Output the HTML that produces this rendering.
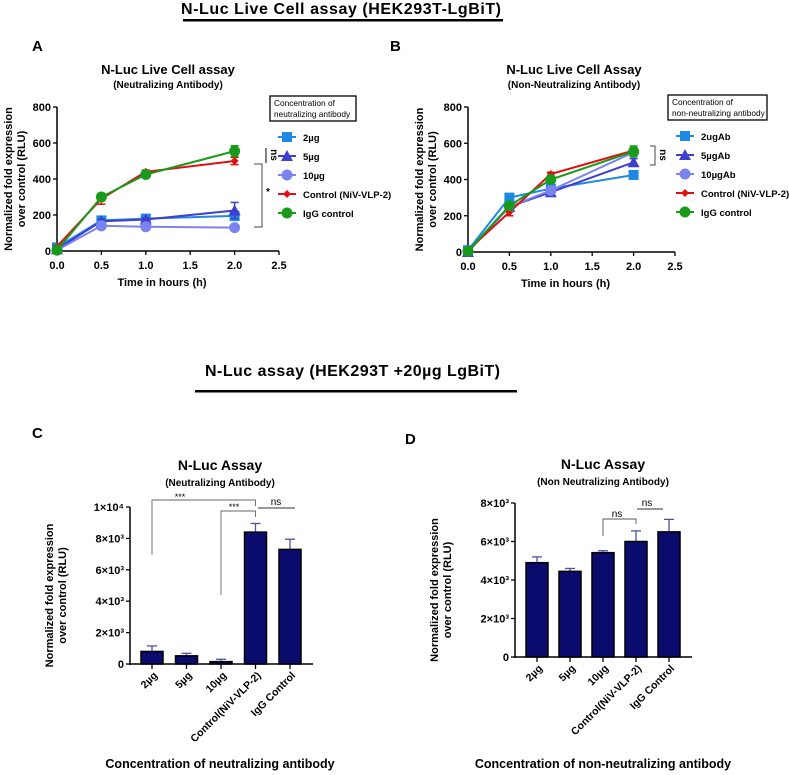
<!DOCTYPE html>
<html><head><meta charset="utf-8"><style>
html,body{margin:0;padding:0;background:#fff}
svg{display:block;font-family:"Liberation Sans",Arial,sans-serif}
</style></head><body>
<svg id="fig" width="789" height="775" viewBox="0 0 789 775">
<g>
<text x="181" y="14" font-size="16" font-weight="bold" textLength="320">N-Luc  Live Cell assay (HEK293T-LgBiT)</text>
<rect x="183" y="19" width="320" height="2.5" fill="#000"/></g>
<g>
<text x="205" y="376" font-size="16" font-weight="bold" textLength="295">N-Luc assay (HEK293T +20µg LgBiT)</text>
<rect x="195" y="390" width="322" height="2.5" fill="#000"/></g>
<text x="32" y="51" font-size="15" font-weight="bold">A</text>
<text x="390" y="51" font-size="15" font-weight="bold">B</text>
<text x="32" y="438" font-size="15" font-weight="bold">C</text>
<text x="405" y="444" font-size="15" font-weight="bold">D</text>
</svg>
<script>
// ---- Panel A data ----
const timesA=[0,0.5,1,2];
const a2ug=[20,170,180,195];
const a5ug=[10,165,175,225];
const a10ug=[5,140,135,130];
const aCtrl=[25,290,440,500];
const aIgG=[5,300,425,555];
const aErr5=[0,10,10,45];
const aErrCtrl=[5,30,10,20];
const aErrIgG=[5,20,10,30];
// ---- Panel B data ----
const b2ug=[10,300,350,425];
const b5ug=[0,250,330,495];
const b10ug=[5,250,340,550];
const bCtrl=[10,220,430,560];
const bIgG=[5,255,400,555];
const bErrCtrl=[5,20,10,15];
const bErrIgG=[5,15,10,30];
const xTicks=[0,0.5,1,1.5,2,2.5];
const yTicksAB=[0,200,400,600,800];
// ---- Panel C data ----
const catsC=["2µg","5µg","10µg","Control(NiV-VLP-2)","IgG Control"];
const valsC=[800,520,150,8400,7300];
const errC=[350,160,150,550,650];
const yTicksC=[0,2000,4000,6000,8000,10000];
const yLabC=["0","2×10³","4×10³","6×10³","8×10³","1×10⁴"];
// ---- Panel D data ----
const catsD=["2µg","5µg","10µg","Control(NiV-VLP-2)","IgG Control"];
const valsD=[4900,4450,5420,6000,6500];
const errD=[300,150,100,550,650];
const yTicksD=[0,2000,4000,6000,8000];
const yLabD=["0","2×10³","4×10³","6×10³","8×10³"];

const NS="http://www.w3.org/2000/svg";
const svg=document.getElementById('fig');
function mk(tag,at,parent,txt){const e=document.createElementNS(NS,tag);for(const k in at)e.setAttribute(k,at[k]);if(txt!=null)e.textContent=txt;(parent||svg).appendChild(e);return e;}
function grp(name){const g=mk('g',{});return g;}

const COL={c2:"#1e88e5",c5:"#3f3fcf",c10:"#7b83ee",ctrl:"#e01010",igg:"#1a9a1a"};
function marker(g,shape,x,y,c,s){
  if(shape==='sq') return mk('rect',{x:x-5,y:y-5,width:10,height:10,fill:c},g);
  if(shape==='tri') return mk('polygon',{points:`${x},${y-6} ${x-6},${y+5} ${x+6},${y+5}`,fill:c},g);
  if(shape==='circ') return mk('circle',{cx:x,cy:y,r:s||5.5,fill:c},g);
  if(shape==='dia') return mk('polygon',{points:`${x},${y-4} ${x+4},${y} ${x},${y+4} ${x-4},${y}`,fill:c},g);
}

function linePanel(o){
  const X=v=>o.x0+(v/2.5)*(o.x1-o.x0), Y=v=>o.y0-(v/800)*(o.y0-o.y1);
  const ax=grp(o.id+'-axes');
  mk('line',{x1:o.x0,y1:o.y1,x2:o.x0,y2:o.y0+1,stroke:'#000','stroke-width':1.5},ax);
  mk('line',{x1:o.x0,y1:o.y0,x2:o.x1,y2:o.y0,stroke:'#000','stroke-width':1.5},ax);
  xTicks.forEach(t=>{mk('line',{x1:X(t),y1:o.y0,x2:X(t),y2:o.y0+4,stroke:'#000','stroke-width':1.3},ax);
    mk('text',{x:X(t),y:o.y0+18,'font-size':11,'font-weight':'bold','text-anchor':'middle'},ax,t.toFixed(1));});
  yTicksAB.forEach(t=>{mk('line',{x1:o.x0-4,y1:Y(t),x2:o.x0,y2:Y(t),stroke:'#000','stroke-width':1.3},ax);
    mk('text',{x:o.x0-6,y:Y(t)+4,'font-size':11,'font-weight':'bold','text-anchor':'end'},ax,String(t));});
  mk('text',{x:(o.x0+o.x1)/2-6,y:o.y0+35,'font-size':11,'font-weight':'bold','text-anchor':'middle'},ax,'Time in hours (h)');
  const yt=mk('text',{transform:`translate(${o.x0-38},${(o.y0+o.y1)/2}) rotate(-90)`,'font-size':11,'font-weight':'bold','text-anchor':'middle'},ax);
  mk('tspan',{x:0,dy:-7},yt,'Normalized fold expression');mk('tspan',{x:0,dy:13},yt,'over control (RLU)');
  const tg=grp(o.id+'-title');
  mk('text',{x:o.tx,y:o.y1-33,'font-size':13,'font-weight':'bold','text-anchor':'middle'},tg,o.title);
  mk('text',{x:o.tx,y:o.y1-19,'font-size':10,'font-weight':'bold','text-anchor':'middle'},tg,o.sub);
  o.series.forEach(s=>{
    const g=grp(o.id+'-series-'+s.key);
    const pts=timesA.map((t,i)=>X(t)+','+Y(s.v[i])).join(' ');
    mk('polyline',{points:pts,fill:'none',stroke:s.c,'stroke-width':2},g);
    timesA.forEach((t,i)=>{const e=s.e?s.e[i]:0;
      if(e>0){mk('line',{x1:X(t),y1:Y(s.v[i]+e),x2:X(t),y2:Y(s.v[i]-e),stroke:s.c,'stroke-width':1.5},g);
        mk('line',{x1:X(t)-4,y1:Y(s.v[i]+e),x2:X(t)+4,y2:Y(s.v[i]+e),stroke:s.c,'stroke-width':1.5},g);
        mk('line',{x1:X(t)-4,y1:Y(s.v[i]-e),x2:X(t)+4,y2:Y(s.v[i]-e),stroke:s.c,'stroke-width':1.5},g);}
      const m=marker(g,s.m,X(t),Y(s.v[i]),s.c);
      
      });
  });
  const lg=grp(o.id+'-legend');
  mk('rect',{x:o.lx,y:o.ly,width:o.lw,height:25,fill:'#fff',stroke:'#000','stroke-width':1.3},lg);
  mk('text',{x:o.lx+4,y:o.ly+10,'font-size':8.3},lg,o.lt1);
  mk('text',{x:o.lx+4,y:o.ly+21,'font-size':8.3},lg,o.lt2);
  o.series.forEach((s,i)=>{const y=o.ly+41+i*19;const eg=grp(o.id+'-legend-entry-'+s.key);lg.appendChild(eg);
    mk('line',{x1:o.lx+8,y1:y,x2:o.lx+26,y2:y,stroke:s.c,'stroke-width':2},eg);
    marker(eg,s.m,o.lx+17,y,s.c);
    mk('text',{x:o.lx+33,y:y+4,'font-size':9.5,'font-weight':'bold'},eg,s.lab);});
  return {X,Y};
}

const A=linePanel({id:'panel-a',x0:57,x1:279,y0:251,y1:107,tx:168,title:'N-Luc Live Cell assay',sub:'(Neutralizing Antibody)',
 lx:270,ly:96,lw:86,lt1:'Concentration of',lt2:'neutralizing antibody',
 series:[{key:'2ug',v:a2ug,c:COL.c2,m:'sq',lab:'2µg',e:[0,10,12,25]},
 {key:'5ug',v:a5ug,c:COL.c5,m:'tri',lab:'5µg',e:aErr5},
 {key:'10ug',v:a10ug,c:COL.c10,m:'circ',lab:'10µg'},
 {key:'control',v:aCtrl,c:COL.ctrl,m:'dia',lab:'Control (NiV-VLP-2)',e:aErrCtrl},
 {key:'igg',v:aIgG,c:COL.igg,m:'circ',lab:'IgG control',e:aErrIgG}]});
(function(){const g=grp('panel-a-significance');
 mk('line',{x1:266,y1:148,x2:266,y2:163,stroke:'#000','stroke-width':1},g);
 mk('text',{transform:'translate(271,155) rotate(90)','font-size':10,'font-weight':'bold','text-anchor':'middle'},g,'ns');
 mk('polyline',{points:'254,164 262,164 262,227 254,227',fill:'none',stroke:'#444','stroke-width':1},g);
 mk('text',{x:266,y:195,'font-size':10,'font-weight':'bold'},g,'*');})();

const B=linePanel({id:'panel-b',x0:468,x1:675,y0:252,y1:107,tx:574,title:'N-Luc Live Cell Assay',sub:'(Non-Neutralizing Antibody)',
 lx:668,ly:95,lw:99,lt1:'Concentration of',lt2:'non-neutralizing antibody',
 series:[{key:'2ugab',v:b2ug,c:COL.c2,m:'sq',lab:'2ugAb',e:[0,10,10,15]},
 {key:'5ugab',v:b5ug,c:COL.c5,m:'tri',lab:'5µgAb',e:[0,10,10,20]},
 {key:'10ugab',v:b10ug,c:COL.c10,m:'circ',lab:'10µgAb'},
 {key:'control',v:bCtrl,c:COL.ctrl,m:'dia',lab:'Control (NiV-VLP-2)',e:bErrCtrl},
 {key:'igg',v:bIgG,c:COL.igg,m:'circ',lab:'IgG control',e:bErrIgG}]});
(function(){const g=grp('panel-b-significance');
 mk('polyline',{points:'650,146 655,146 655,165 650,165',fill:'none',stroke:'#444','stroke-width':1},g);
 mk('text',{transform:'translate(660,155) rotate(90)','font-size':10,'font-weight':'bold','text-anchor':'middle'},g,'ns');})();

function barPanel(o){
  const X=i=>o.x0+o.off+i*o.step, Y=v=>o.y0-(v/o.max)*(o.y0-o.y1);
  const ax=grp(o.id+'-axes');
  mk('line',{x1:o.x0,y1:o.y1,x2:o.x0,y2:o.y0+1,stroke:'#000','stroke-width':1.5},ax);
  mk('line',{x1:o.x0,y1:o.y0,x2:o.x1,y2:o.y0,stroke:'#000','stroke-width':1.5},ax);
  o.ticks.forEach((t,i)=>{mk('line',{x1:o.x0-4,y1:Y(t),x2:o.x0,y2:Y(t),stroke:'#000','stroke-width':1.3},ax);
    mk('text',{x:o.x0-6,y:Y(t)+4,'font-size':11,'font-weight':'bold','text-anchor':'end'},ax,o.tl[i]);});
  const yt=mk('text',{transform:`translate(${o.yx},${(o.y0+o.y1)/2+10}) rotate(-90)`,'font-size':11,'font-weight':'bold','text-anchor':'middle'},ax);
  mk('tspan',{x:0,dy:-7},yt,'Normalized fold expression');mk('tspan',{x:0,dy:13},yt,'over control (RLU)');
  mk('text',{x:o.xtx,y:o.xty,'font-size':12.5,'font-weight':'bold','text-anchor':'middle'},ax,o.xt);
  const tg=grp(o.id+'-title');
  mk('text',{x:o.tx,y:o.ty,'font-size':14,'font-weight':'bold','text-anchor':'middle'},tg,o.title);
  mk('text',{x:o.tx,y:o.ty+16,'font-size':10,'font-weight':'bold','text-anchor':'middle'},tg,o.sub);
  o.cats.forEach((c,i)=>{
    const g=grp(o.id+'-bar-'+i);
    const top=Y(o.vals[i]+o.err[i]);
    mk('line',{x1:X(i),y1:top,x2:X(i),y2:Y(o.vals[i]),stroke:'#5050a0','stroke-width':1.3},g);
    mk('line',{x1:X(i)-5,y1:top,x2:X(i)+5,y2:top,stroke:'#5050a0','stroke-width':1.3},g);
    const r=mk('rect',{x:X(i)-11,y:Y(o.vals[i]),width:22,height:o.y0-Y(o.vals[i]),fill:'#0b0b6e',stroke:'#000','stroke-width':1.5},g);
    
    
    mk('line',{x1:X(i),y1:o.y0,x2:X(i),y2:o.y0+5,stroke:'#000','stroke-width':1.3},ax);
    mk('text',{transform:`translate(${X(i)+6},${o.y0+12}) rotate(-45)`,'font-size':10.5,'font-weight':'bold','text-anchor':'end'},ax,c);
  });
  return {X,Y};
}
const C=barPanel({id:'panel-c',cats:catsC,vals:valsC,err:errC,ticks:yTicksC,tl:yLabC,max:10000,x0:130,x1:313,y0:664,y1:507,off:22,step:34.5,
 yx:60,title:'N-Luc Assay',sub:'(Neutralizing Antibody)',tx:220,ty:470,xt:'Concentration of neutralizing antibody',xtx:220,xty:768});
(function(){const g=grp('panel-c-significance');
 mk('polyline',{points:`${C.X(0)},555 ${C.X(0)},500 ${C.X(3)},500 ${C.X(3)},506`,fill:'none',stroke:'#666','stroke-width':0.9},g);
 mk('text',{x:180,y:500,'font-size':9,'text-anchor':'middle'},g,'***');
 mk('polyline',{points:`${C.X(2)},595 ${C.X(2)},511 ${C.X(3)},511 ${C.X(3)},517`,fill:'none',stroke:'#666','stroke-width':0.9},g);
 mk('text',{x:234,y:510,'font-size':9,'text-anchor':'middle'},g,'***');
 mk('line',{x1:258,y1:508,x2:295,y2:508,stroke:'#333','stroke-width':0.9},g);
 mk('text',{x:276,y:505,'font-size':10,'text-anchor':'middle'},g,'ns');})();

const D=barPanel({id:'panel-d',cats:catsD,vals:valsD,err:errD,ticks:yTicksD,tl:yLabD,max:8000,x0:515,x1:692,y0:657,y1:503,off:22,step:33,
 yx:445,title:'N-Luc Assay',sub:'(Non Neutralizing Antibody)',tx:603,ty:469,xt:'Concentration of non-neutralizing antibody',xtx:603,xty:768});
(function(){const g=grp('panel-d-significance');
 mk('polyline',{points:`${D.X(2)},536 ${D.X(2)},519 ${D.X(3)},519 ${D.X(3)},524`,fill:'none',stroke:'#555','stroke-width':0.9},g);
 mk('text',{x:617,y:517,'font-size':10,'text-anchor':'middle'},g,'ns');
 mk('line',{x1:637,y1:509,x2:663,y2:509,stroke:'#333','stroke-width':0.9},g);
 mk('text',{x:647,y:506,'font-size':10,'text-anchor':'middle'},g,'ns');})();
</script>
</body></html>
